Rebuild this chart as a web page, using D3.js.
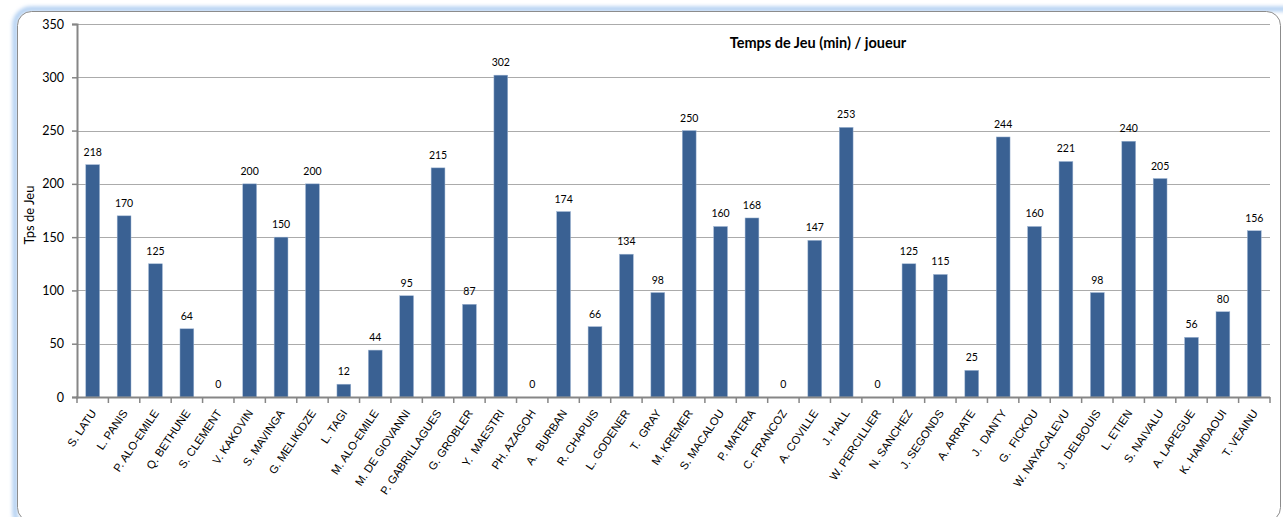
<!DOCTYPE html>
<html lang="fr">
  <head>
    <meta charset="UTF-8" />
    <title>Temps de Jeu (min) / joueur</title>
    <script src="https://d3js.org/d3.v7.min.js"></script>
    <style>
      body {
        margin: 0;
        background: #fff;
      }
      .axis text {
        font-family: Lato, "Open Sans", sans-serif;
      }
    </style>
  </head>
  <body>
    <div id="chart"></div>
    <script>
      const players = [
        "S. LATU", "L. PANIS", "P. ALO-EMILE", "Q. BETHUNE", "S. CLEMENT",
        "V. KAKOVIN", "S. MAVINGA", "G. MELIKIDZE", "L. TAGI", "M. ALO-EMILE",
        "M. DE GIOVANNI", "P. GABRILLAGUES", "G. GROBLER", "Y.  MAESTRI",
        "PH. AZAGOH", "A.  BURBAN", "R. CHAPUIS", "L. GODENER", "T.  GRAY",
        "M. KREMER", "S. MACALOU", "P. MATERA", "C. FRANCOZ", "A. COVILLE",
        "J. HALL", "W. PERCILLIER", "N. SANCHEZ", "J. SEGONDS", "A. ARRATE",
        "J.  DANTY", "G.  FICKOU", "W. NAYACALEVU", "J. DELBOUIS", "L. ETIEN",
        "S. NAIVALU", "A. LAPEGUE", "K. HAMDAOUI", "T. VEAINU",
      ];
      const minutes = [
        218, 170, 125, 64, 0, 200, 150, 200, 12, 44, 95, 215, 87, 302, 0, 174,
        66, 134, 98, 250, 160, 168, 0, 147, 253, 0, 125, 115, 25, 244, 160, 221,
        98, 240, 205, 56, 80, 156,
      ];
      const yTicks = [0, 50, 100, 150, 200, 250, 300, 350];

      const data = players.map((name, i) => ({ name, value: minutes[i] }));

      const W = 1283;
      const H = 517;
      const plot = { left: 77, right: 1270, top: 24, bottom: 397 };

      const svg = d3
        .select("#chart")
        .append("svg")
        .attr("width", W)
        .attr("height", H);

      // frame with soft blue glow on the left/top
      const defs = svg.append("defs");
      defs
        .append("filter")
        .attr("id", "glow")
        .attr("x", "-5%")
        .attr("y", "-5%")
        .attr("width", "110%")
        .attr("height", "110%")
        .append("feGaussianBlur")
        .attr("stdDeviation", 2);

      svg
        .append("rect")
        .attr("x", 15)
        .attr("y", 9)
        .attr("width", 1290)
        .attr("height", 520)
        .attr("rx", 16)
        .attr("fill", "none")
        .attr("stroke", "#9cc2ee")
        .attr("stroke-width", 4)
        .attr("filter", "url(#glow)");

      svg
        .append("rect")
        .attr("x", 17.5)
        .attr("y", 11.5)
        .attr("width", 1263)
        .attr("height", 510)
        .attr("rx", 14)
        .attr("fill", "#fff")
        .attr("stroke", "#8c8c8c")
        .attr("stroke-width", 1);

      const x = d3
        .scaleBand()
        .domain(players)
        .range([plot.left, plot.right])
        .paddingInner(0.56)
        .paddingOuter(0.28);

      const y = d3
        .scaleLinear()
        .domain([0, 350])
        .range([plot.bottom, plot.top]);

      // gridlines
      svg
        .append("g")
        .selectAll("line")
        .data(yTicks.filter((t) => t > 0))
        .join("line")
        .attr("x1", plot.left)
        .attr("x2", plot.right)
        .attr("y1", (d) => Math.round(y(d)) + 0.5)
        .attr("y2", (d) => Math.round(y(d)) + 0.5)
        .attr("stroke", "#ababab")
        .attr("stroke-width", 1);

      // bars
      svg
        .append("g")
        .selectAll("rect")
        .data(data)
        .join("rect")
        .attr("x", (d) => x(d.name))
        .attr("y", (d) => y(d.value))
        .attr("width", x.bandwidth())
        .attr("height", (d) => plot.bottom - y(d.value))
        .attr("fill", "#3a6193")
        .attr("stroke", "#9fb6d3")
        .attr("stroke-width", 0.5);

      // value labels
      svg
        .append("g")
        .selectAll("text")
        .data(data)
        .join("text")
        .attr("x", (d) => x(d.name) + x.bandwidth() / 2)
        .attr("y", (d) => y(d.value) - 9)
        .attr("text-anchor", "middle")
        .style("font-family", "Lato, 'Open Sans', sans-serif")
        .style("font-size", "10.5px")
        .attr("fill", "#000")
        .text((d) => d.value);

      // y axis
      const yAxis = svg
        .append("g")
        .attr("class", "axis")
        .attr("transform", `translate(${plot.left},0)`)
        .call(d3.axisLeft(y).tickValues(yTicks).tickSize(5).tickPadding(8));
      yAxis.select(".domain").attr("stroke", "#868686").attr("stroke-width", 2);
      yAxis.selectAll(".tick line").attr("stroke", "#868686").attr("stroke-width", 1.5);
      yAxis.selectAll("text").style("font-size", "12.5px").attr("fill", "#000");

      // x axis: ticks at category boundaries
      const xg = svg.append("g").attr("class", "axis");
      xg.append("line")
        .attr("x1", plot.left - 1)
        .attr("x2", plot.right)
        .attr("y1", plot.bottom + 0.5)
        .attr("y2", plot.bottom + 0.5)
        .attr("stroke", "#868686")
        .attr("stroke-width", 2);
      const step = x.step();
      xg.selectAll("line.tk")
        .data(d3.range(players.length + 1))
        .join("line")
        .attr("class", "tk")
        .attr("x1", (i) => plot.left + i * step)
        .attr("x2", (i) => plot.left + i * step)
        .attr("y1", plot.bottom)
        .attr("y2", plot.bottom + 6)
        .attr("stroke", "#868686")
        .attr("stroke-width", 1.5);

      xg.selectAll("text")
        .data(players)
        .join("text")
        .attr(
          "transform",
          (d) =>
            `translate(${x(d) + x.bandwidth() / 2 + 4},${plot.bottom + 16}) rotate(-56)`
        )
        .attr("text-anchor", "end")
        .style("font-family", "'Liberation Sans', Arial, sans-serif")
        .style("font-size", "11.3px")
        .style("white-space", "pre")
        .attr("fill", "#000")
        .text((d) => d);

      // y axis title
      svg
        .append("text")
        .attr("transform", `translate(34,215) rotate(-90)`)
        .attr("text-anchor", "middle")
        .style("font-family", "Lato, 'Open Sans', sans-serif")
        .style("font-size", "13px")
        .text("Tps de Jeu");

      // chart title
      svg
        .append("text")
        .attr("x", 818)
        .attr("y", 48)
        .attr("text-anchor", "middle")
        .style("font-family", "Lato, 'Open Sans', sans-serif")
        .style("font-size", "14.5px")
        .style("font-weight", "bold")
        .text("Temps de Jeu (min) / joueur");
    </script>
  </body>
</html>
